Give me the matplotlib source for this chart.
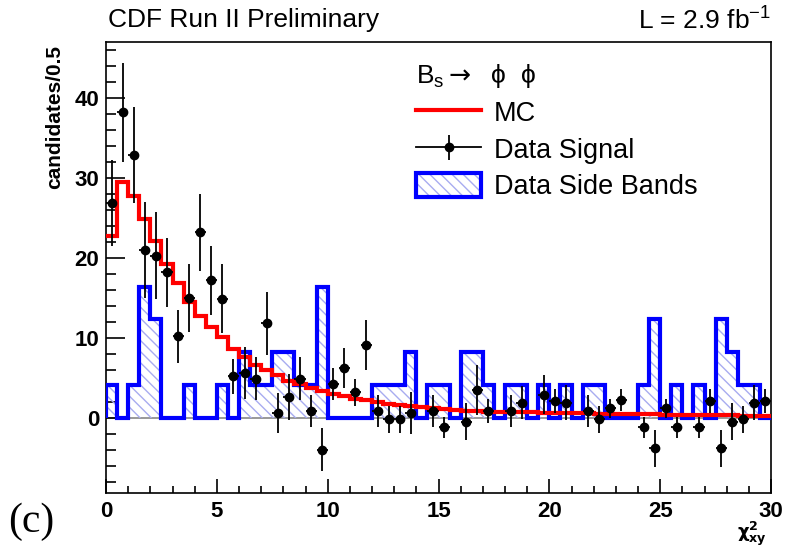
import numpy as np
import matplotlib.pyplot as plt
from matplotlib.patches import Patch
from matplotlib.lines import Line2D

# chi2_xy bins, width 0.5 from 0 to 30
edges = np.arange(0, 30.01, 0.5)
centers = edges[:-1] + 0.25

mc = [22.7, 29.5, 27.7, 24.9, 22.1, 19.2, 16.9, 14.5, 12.7, 11.4, 10.1, 8.6, 7.6, 6.6, 6.0, 5.3, 4.6,
      4.2, 3.7, 3.4, 3.0, 2.75, 2.4, 2.2, 2.0, 1.75, 1.65, 1.5, 1.35, 1.2, 1.1, 1.0, 0.9, 0.8,
      0.78, 0.75, 0.72, 0.7, 0.68, 0.65, 0.62, 0.6, 0.58, 0.55, 0.53, 0.5, 0.48, 0.46, 0.44,
      0.42, 0.4, 0.38, 0.36, 0.35, 0.33, 0.32, 0.3, 0.29, 0.28, 0.27]

side_bands = [4.1, 0, 4.1, 16.4, 12.3, 0, 0, 4.1, 0, 0, 4.1, 0, 8.2, 4.1, 4.1, 8.2, 8.2, 4.1, 4.1, 16.4,
              0, 0, 0, 0, 4.1, 4.1, 4.1, 8.2, 0, 4.1, 4.1, 0, 8.2, 8.2, 4.1, 0, 4.1, 4.1, 0, 4.1,
              0, 4.1, 0, 4.1, 4.1, 0, 0, 0, 4.1, 12.3, 0, 4.1, 0, 4.1, 0, 12.3, 8.2, 4.1, 4.1, 0]

nan = np.nan
signal = [26.9, 38.2, 32.9, 21.0, 20.3, 18.2, 10.2, 15.0, 23.2, 17.2, 14.9, 5.2, 5.6, 4.9, 11.8, 0.6,
          2.6, 4.9, 0.9, -4.0, 4.2, 6.2, 3.2, 9.1, 0.9, -0.2, -0.2, 0.6, nan, 0.8, -1.2, nan, -0.5,
          3.5, 0.9, nan, 0.9, 1.9, nan, 2.9, 2.1, 1.9, nan, 0.9, -0.2, 1.2, 2.2, nan, -1.2, -3.8,
          1.2, -1.2, nan, -1.2, 2.1, -3.8, -0.5, -0.2, 1.9, 2.1]
signal_err = [5.4, 6.2, 6.0, 6.0, 5.5, 4.3, 3.3, 4.3, 4.8, 4.3, 4.3, 2.2, 3.3, 2.7, 3.9, 2.5,
              2.9, 2.7, 2.0, 2.7, 2.0, 2.5, 1.7, 3.1, 2.0, 1.7, 1.7, 2.6, nan, 2.0, 1.3, nan, 2.3,
              3.1, 1.5, nan, 2.0, 2.1, nan, 2.4, 1.5, 2.2, nan, 2.0, 1.7, 1.2, 1.4, nan, 1.3, 2.3,
              1.2, 1.3, nan, 1.3, 1.5, 2.3, 2.3, 1.7, 2.2, 1.5]

plt.rcParams['font.family'] = ['Liberation Sans', 'DejaVu Sans']
plt.rcParams['hatch.linewidth'] = 1.0

fig = plt.figure(figsize=(7.94, 5.49), dpi=100)
ax = fig.add_axes([106/794, 1-493/549, 665/794, 451/549])

ax.axhline(0, color='#888888', lw=1.2, zorder=1)

hatch_col = '#a8acf0'
ax.stairs(side_bands, edges, fill=True, facecolor='none', edgecolor=hatch_col,
          hatch='\\\\\\', lw=0, zorder=2)
ax.stairs(side_bands, edges, color='#0000ff', lw=3, zorder=3)
ax.stairs(mc, edges, color='#ff0000', lw=3, baseline=None, zorder=4)

sig = np.array(signal)
err = np.array(signal_err)
ok = ~np.isnan(sig)
ax.errorbar(centers[ok], sig[ok], yerr=err[ok], xerr=0.25, fmt='o', color='black',
            ms=6, elinewidth=1.3, capsize=0, zorder=5)

ax.set_xlim(0, 30)
ax.set_ylim(-9.4, 47)
ax.set_xticks([0, 5, 10, 15, 20, 25, 30])
ax.set_xticks(np.arange(0, 31, 1), minor=True)
ax.set_yticks([0, 10, 20, 30, 40])
ax.set_yticks(np.arange(-8, 47, 2), minor=True)
ax.tick_params(direction='in', which='both', labelsize=16)
ax.tick_params(axis='x', which='major', length=10, width=1.2, pad=6)
ax.tick_params(axis='x', which='minor', length=5, width=1.2)
ax.tick_params(axis='y', which='major', length=14, width=1.2, pad=5)
ax.tick_params(axis='y', which='minor', length=7, width=1.2)
for lab in ax.get_xticklabels() + ax.get_yticklabels():
    lab.set_fontweight('bold')
for s in ax.spines.values():
    s.set_linewidth(1.2)

fig.text(55/794, 1-45/549, 'candidates/0.5', rotation=90, ha='center', va='top',
         fontsize=15, fontweight='bold')
fig.text(752/794, 1-534/549, r'$\mathbf{\chi^{2}_{xy}}$', ha='center', va='center', fontsize=13)
fig.text(108/794, 1-20/549, 'CDF Run II Preliminary', ha='left', va='center', fontsize=19)
fig.text(771/794, 1-20/549, r'L = 2.9 fb$^{\mathregular{-1}}$', ha='right', va='center', fontsize=19)
fig.text(8/794, 1-522/549, '(c)', ha='left', va='center', fontsize=30, family='Liberation Serif')

mc_h = Line2D([], [], color='#ff0000', lw=3)
sig_h = (Line2D([], [], color='black', lw=1.3, marker='o', ms=6),
         Line2D([], [], ls='none', marker='|', ms=18, mew=1.3, color='black'))
sb_h = (Patch(facecolor='none', edgecolor=hatch_col, hatch='\\\\\\', lw=0),
        Patch(facecolor='none', edgecolor='#0000ff', lw=3))
leg = ax.legend([mc_h, sig_h, sb_h], ['MC', 'Data Signal', 'Data Side Bands'],
                title='B$_{\\mathregular{s}}$$\\rightarrow$  \u03d5  \u03d5', title_fontsize=19,
                fontsize=19.5, loc='upper left', bbox_to_anchor=(0.43, 1.01), frameon=False,
                handlelength=2.4, handleheight=1.0, handletextpad=0.45, alignment='left',
                labelspacing=0.35, numpoints=1)

fig.savefig('out.png', dpi=100)
